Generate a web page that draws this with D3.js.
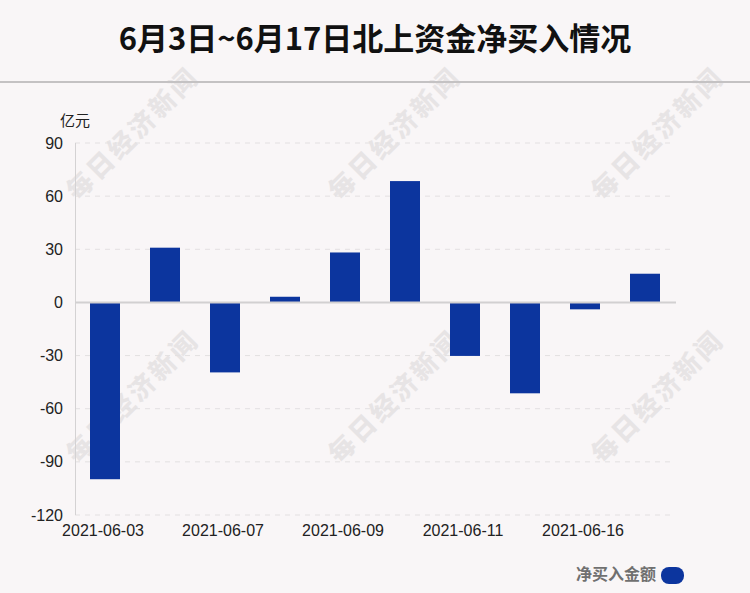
<!DOCTYPE html>
<html><head><meta charset="utf-8">
<script src="https://cdn.jsdelivr.net/npm/d3@7"></script>
<style>
html,body{margin:0;padding:0;background:#f9f6f7;}
svg{display:block;}
.num{font-family:"Liberation Sans",Arial,sans-serif;font-size:16px;fill:#222;}
</style></head>
<body>
<svg id="chart" width="750" height="593"></svg>
<script>
const categories = ["2021-06-03","2021-06-04","2021-06-07","2021-06-08","2021-06-09","2021-06-10","2021-06-11","2021-06-15","2021-06-16","2021-06-17"];
const values = [-99.8, 30.9, -39.5, 3.2, 28.2, 68.5, -30.2, -51.3, -3.9, 16.2];
const yTicks = [90, 60, 30, 0, -30, -60, -90, -120];
const xTickLabels = ["2021-06-03","2021-06-07","2021-06-09","2021-06-11","2021-06-16"];
const title = "6月3日~6月17日北上资金净买入情况";
const unit = "亿元";
const seriesName = "净买入金额";

const W = 750, H = 593;
const svg = d3.select("#chart");
const cjk = "'Noto Sans CJK SC','Noto Sans',sans-serif";

svg.append("rect").attr("width", W).attr("height", H).attr("fill", "#f9f6f7");

// watermarks
const wm = [[131,132],[393,132],[656,132],[131,395],[393,395],[656,395]];
svg.append("g").selectAll("text").data(wm).join("text")
  .attr("transform", d => `translate(${d[0]},${d[1]}) rotate(-45)`)
  .attr("text-anchor", "middle").attr("dominant-baseline", "central")
  .attr("font-family", "'Noto Sans CJK SC',serif").attr("font-weight", "900")
  .attr("font-size", 26).attr("fill", "#000").attr("opacity", 0.065)
  .attr("letter-spacing", 3)
  .text("每日经济新闻");

// title
svg.append("text").attr("x", W/2).attr("y", 50).attr("text-anchor", "middle")
  .attr("font-family", cjk).attr("font-weight", "bold").attr("font-size", 31)
  .attr("fill", "#111").text(title);
svg.append("line").attr("x1", 0).attr("x2", W).attr("y1", 82).attr("y2", 82)
  .attr("stroke", "#c4c2c3").attr("stroke-width", 2);

const x = d3.scaleBand().domain(categories).range([75, 675]).paddingInner(0.5).paddingOuter(0.25);
const y = d3.scaleLinear().domain([-120, 90]).range([515, 143]);

// grid
svg.append("g").selectAll("line").data(yTicks.filter(d => d !== 0)).join("line")
  .attr("x1", 75).attr("x2", 670).attr("y1", d => y(d)).attr("y2", d => y(d))
  .attr("stroke", "#e3e0e1").attr("stroke-dasharray", "5,5").attr("stroke-width", 1);

// y axis line
svg.append("line").attr("x1", 75.5).attr("x2", 75.5).attr("y1", y(90)).attr("y2", y(-120))
  .attr("stroke", "#d4d2d3").attr("stroke-width", 1);

// y ticks
const yAxis = d3.axisLeft(y).tickValues(yTicks).tickSize(0).tickPadding(12).tickFormat(d => String(d));
const gy = svg.append("g").attr("transform", "translate(75,0)").call(yAxis);
gy.select(".domain").remove();
gy.attr("font-family", null).attr("font-size", null);
gy.selectAll("text").attr("class", "num");

svg.append("text").attr("x", 75).attr("y", 126).attr("text-anchor", "middle")
  .attr("font-family", cjk).attr("font-size", 15).attr("fill", "#222").text(unit);

// bars
svg.append("g").selectAll("rect").data(values).join("rect")
  .attr("x", (d, i) => x(categories[i]))
  .attr("width", x.bandwidth())
  .attr("y", d => y(Math.max(0, d)))
  .attr("height", d => Math.abs(y(d) - y(0)))
  .attr("fill", "#0c359e");

// zero line
svg.append("line").attr("x1", 75).attr("x2", 676).attr("y1", y(0)).attr("y2", y(0))
  .attr("stroke", "#d2d0d1").attr("stroke-width", 2);

// x labels
const xAxis = d3.axisBottom(x).tickValues(xTickLabels).tickSize(0).tickPadding(10);
const gx = svg.append("g").attr("transform", `translate(-2,${y(-120)})`).call(xAxis);
gx.select(".domain").remove();
gx.attr("font-family", null).attr("font-size", null);
gx.selectAll("text").attr("class", "num");

// legend
svg.append("text").attr("x", 656).attr("y", 580).attr("text-anchor", "end")
  .attr("font-family", cjk).attr("font-weight", "bold").attr("font-size", 16)
  .attr("fill", "#707070").text(seriesName);
svg.append("rect").attr("x", 661).attr("y", 567).attr("width", 23).attr("height", 17)
  .attr("rx", 8).attr("ry", 8).attr("fill", "#0c359e");
</script>
</body></html>
